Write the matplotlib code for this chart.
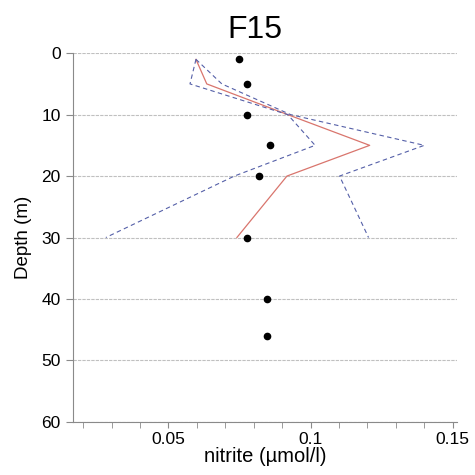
import matplotlib
matplotlib.use("Agg")
from matplotlib import pyplot as plt

plt.rcParams['font.family'] = ['Liberation Sans', 'DejaVu Sans']

# observed nitrite at station
obs_depth = [1, 5, 10, 15, 20, 30, 40, 46]
obs_nitrite = [0.0748, 0.0777, 0.0777, 0.0857, 0.0817, 0.0777, 0.0847, 0.0847]

# profile mean and spread
prof_depth = [1, 5, 10, 15, 20, 30]
prof_mean = [0.0597, 0.0635, 0.092, 0.1208, 0.0917, 0.0741]
prof_low = [0.0597, 0.0576, 0.092, 0.1016, 0.0732, 0.0280]
prof_high = [0.0597, 0.0688, 0.093, 0.1400, 0.1102, 0.1204]

fig = plt.figure(figsize=(4.75, 4.75), dpi=100)
ax = fig.add_axes([0.154, 0.112, 0.808, 0.776])

ax.plot(prof_mean, prof_depth, color='#d9756d', lw=0.9, zorder=3)
ax.plot(prof_low, prof_depth, color='#5560a8', lw=0.8, ls=(0, (4, 3)), zorder=3)
ax.plot(prof_high, prof_depth, color='#5560a8', lw=0.8, ls=(0, (4, 3)), zorder=3)
ax.plot(obs_nitrite, obs_depth, 'o', color='black', ms=4.5, zorder=4)

ax.set_xlim(0.0165, 0.1515)
ax.set_ylim(60, 0)
ax.set_yticks([0, 10, 20, 30, 40, 50, 60])
ax.set_xticks([0.05, 0.1, 0.15])
ax.set_xticklabels(['0.05', '0.1', '0.15'])
ax.set_xticks([0.02, 0.03, 0.04, 0.06, 0.07, 0.08, 0.09, 0.11, 0.12, 0.13, 0.14], minor=True)

ax.grid(axis='y', color='#c0c0c0', lw=0.8, ls=(0, (3, 1)))
ax.set_axisbelow(True)
for s in ['top', 'right']:
    ax.spines[s].set_visible(False)
for s in ['left', 'bottom']:
    ax.spines[s].set_color('#8a8a8a')
ax.tick_params(axis='both', which='both', color='#8a8a8a', labelsize=12.5)
ax.tick_params(axis='x', which='both', length=4, pad=3)
ax.tick_params(axis='y', length=5, pad=4)

ax.set_title('F15', fontsize=23, pad=11, x=0.474)
ax.set_xlabel('nitrite (µmol/l)', fontsize=14.5, labelpad=0)
ax.set_ylabel('Depth (m)', fontsize=13.5, labelpad=7)

plt.savefig('out.png', dpi=100)
